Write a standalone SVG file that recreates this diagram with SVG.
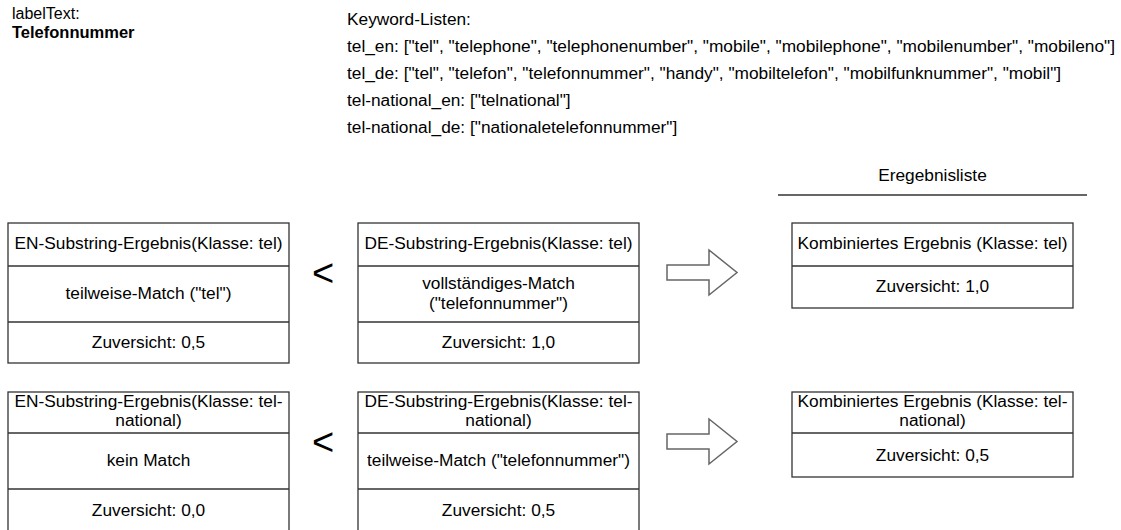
<svg xmlns="http://www.w3.org/2000/svg" width="1121" height="530" viewBox="0 0 1121 530">
<style>
text{font-family:"Liberation Sans",Arial,sans-serif;font-size:17.3px;fill:#000}
.c{text-anchor:middle}
.b{font-weight:bold}
.sm{font-size:16px}
.smb{font-size:16.5px;font-weight:bold}
.box{fill:#fff;stroke:#333;stroke-width:1.3}
.div{stroke:#333;stroke-width:1.3;fill:none}
.arr{fill:#fff;stroke:#666;stroke-width:1.5}
.lt{font-size:38px}
</style>
<rect width="1121" height="530" fill="#fff"/>
<g id="label">
<text x="12" y="19" class="sm">labelText:</text>
<text x="12" y="38" class="smb">Telefonnummer</text>
</g>
<g id="keywords">
<text x="347" y="25">Keyword-Listen:</text>
<text x="347" y="52">tel_en: ["tel", "telephone", "telephonenumber", "mobile", "mobilephone", "mobilenumber", "mobileno"]</text>
<text x="347" y="79">tel_de: ["tel", "telefon", "telefonnummer", "handy", "mobiltelefon", "mobilfunknummer", "mobil"]</text>
<text x="347" y="106">tel-national_en: ["telnational"]</text>
<text x="347" y="133">tel-national_de: ["nationaletelefonnummer"]</text>
</g>
<g id="ergebnisliste">
<text x="932.5" y="181" class="c">Eregebnisliste</text>
<line x1="778" y1="195" x2="1087" y2="195" class="div"/>
</g>
<g id="en-tel">
<rect x="8" y="223" width="281" height="140" class="box"/>
<line x1="8" y1="266" x2="289" y2="266" class="div"/>
<line x1="8" y1="322" x2="289" y2="322" class="div"/>
<text x="148.5" y="249" class="c">EN-Substring-Ergebnis(Klasse: tel)</text>
<text x="148.5" y="299" class="c">teilweise-Match ("tel")</text>
<text x="148.5" y="348" class="c">Zuversicht: 0,5</text>
</g>
<g id="de-tel">
<rect x="358" y="223" width="281" height="140" class="box"/>
<line x1="358" y1="266" x2="639" y2="266" class="div"/>
<line x1="358" y1="322" x2="639" y2="322" class="div"/>
<text x="498.5" y="249" class="c">DE-Substring-Ergebnis(Klasse: tel)</text>
<text x="498.5" y="289" class="c">vollständiges-Match</text>
<text x="498.5" y="309" class="c">("telefonnummer")</text>
<text x="498.5" y="348" class="c">Zuversicht: 1,0</text>
</g>
<g id="komb-tel">
<rect x="792" y="223" width="281" height="85" class="box"/>
<line x1="792" y1="266" x2="1073" y2="266" class="div"/>
<text x="932.5" y="249" class="c">Kombiniertes Ergebnis (Klasse: tel)</text>
<text x="932.5" y="292" class="c">Zuversicht: 1,0</text>
</g>
<g id="en-national">
<rect x="8" y="392" width="281" height="140" class="box"/>
<line x1="8" y1="433" x2="289" y2="433" class="div"/>
<line x1="8" y1="489" x2="289" y2="489" class="div"/>
<text x="148.5" y="407" class="c">EN-Substring-Ergebnis(Klasse: tel-</text>
<text x="148.5" y="426" class="c">national)</text>
<text x="148.5" y="466" class="c">kein Match</text>
<text x="148.5" y="516" class="c">Zuversicht: 0,0</text>
</g>
<g id="de-national">
<rect x="358" y="392" width="281" height="140" class="box"/>
<line x1="358" y1="433" x2="639" y2="433" class="div"/>
<line x1="358" y1="489" x2="639" y2="489" class="div"/>
<text x="498.5" y="407" class="c">DE-Substring-Ergebnis(Klasse: tel-</text>
<text x="498.5" y="426" class="c">national)</text>
<text x="498.5" y="466" class="c">teilweise-Match ("telefonnummer")</text>
<text x="498.5" y="516" class="c">Zuversicht: 0,5</text>
</g>
<g id="komb-national">
<rect x="792" y="392" width="281" height="85" class="box"/>
<line x1="792" y1="433" x2="1073" y2="433" class="div"/>
<text x="932.5" y="407" class="c">Kombiniertes Ergebnis (Klasse: tel-</text>
<text x="932.5" y="426" class="c">national)</text>
<text x="932.5" y="461" class="c">Zuversicht: 0,5</text>
</g>
<g id="connectors">
<text x="323" y="286" class="c lt">&lt;</text>
<text x="323" y="455" class="c lt">&lt;</text>
<polygon points="667,265 709,265 709,250 737,272.5 709,295 709,280 667,280" class="arr"/>
<polygon points="667,434 709,434 709,419 737,441.5 709,464 709,449 667,449" class="arr"/>
</g>
</svg>
